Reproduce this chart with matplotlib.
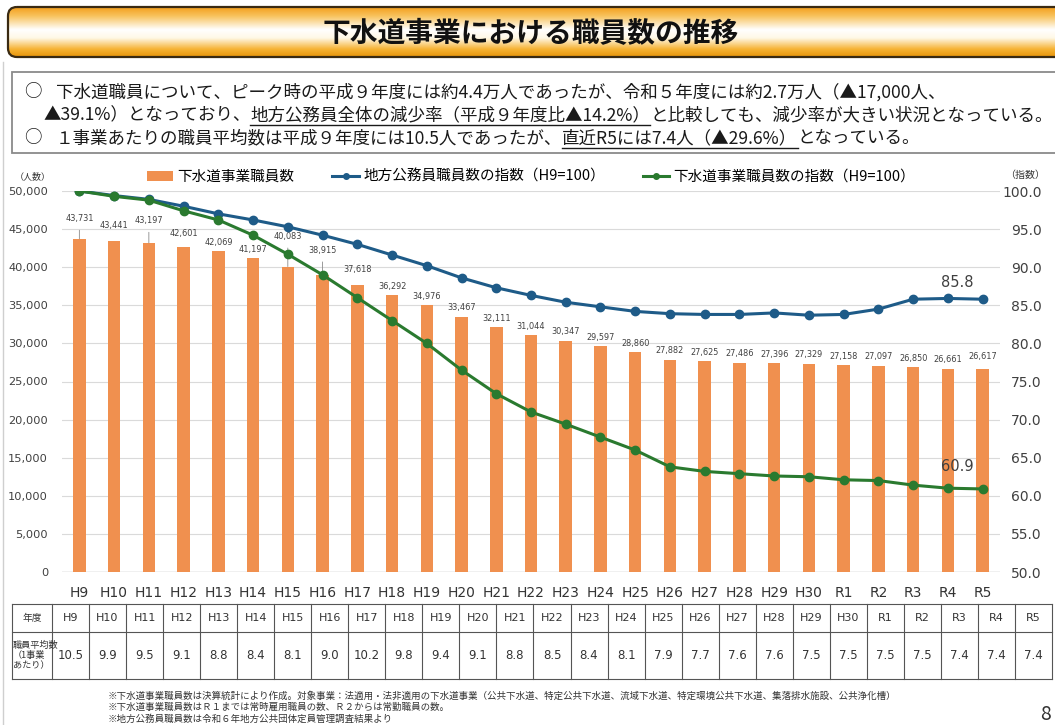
import numpy as np
import matplotlib
matplotlib.use('Agg')
import matplotlib.pyplot as plt
from matplotlib.patches import FancyBboxPatch, Rectangle, Patch
from matplotlib.lines import Line2D
from matplotlib.ticker import FuncFormatter, MultipleLocator

plt.rcParams['font.family'] = ['Noto Sans CJK JP', 'DejaVu Sans']

# --- data ---
years = ['H9', 'H10', 'H11', 'H12', 'H13', 'H14', 'H15', 'H16', 'H17', 'H18',
         'H19', 'H20', 'H21', 'H22', 'H23', 'H24', 'H25', 'H26', 'H27', 'H28',
         'H29', 'H30', 'R1', 'R2', 'R3', 'R4', 'R5']
staff = [43731, 43441, 43197, 42601, 42069, 41197, 40083, 38915, 37618, 36292,
         34976, 33467, 32111, 31044, 30347, 29597, 28860, 27882, 27625, 27486,
         27396, 27329, 27158, 27097, 26850, 26661, 26617]
local_index = [100.0, 99.4, 98.9, 98.0, 97.0, 96.2, 95.3, 94.2, 93.0, 91.6,
               90.2, 88.6, 87.3, 86.3, 85.4, 84.8, 84.2, 83.9, 83.8, 83.8,
               84.0, 83.7, 83.8, 84.5, 85.8, 85.9, 85.8]
sewer_index = [100.0, 99.3, 98.8, 97.4, 96.2, 94.2, 91.7, 89.0, 86.0, 83.0,
               80.0, 76.5, 73.4, 71.0, 69.4, 67.7, 66.0, 63.8, 63.2, 62.9,
               62.6, 62.5, 62.1, 62.0, 61.4, 61.0, 60.9]
avg_staff = [10.5, 9.9, 9.5, 9.1, 8.8, 8.4, 8.1, 9.0, 10.2, 9.8, 9.4, 9.1, 8.8,
             8.5, 8.4, 8.1, 7.9, 7.7, 7.6, 7.6, 7.5, 7.5, 7.5, 7.5, 7.4, 7.4, 7.4]

title = '下水道事業における職員数の推移'
summary = [
    [('○', False)],
    [('下水道職員について、ピーク時の平成９年度には約4.4万人であったが、令和５年度には約2.7万人（▲17,000人、', False)],
    [('▲39.1%）となっており、', False), ('地方公務員全体の減少率（平成９年度比▲14.2%）', True),
     ('と比較しても、減少率が大きい状況となっている。', False)],
    [('○', False)],
    [('１事業あたりの職員平均数は平成９年度には10.5人であったが、', False),
     ('直近R5には7.4人（▲29.6%）', True), ('となっている。', False)],
]
notes = [
    '※下水道事業職員数は決算統計により作成。対象事業：法適用・法非適用の下水道事業（公共下水道、特定公共下水道、流域下水道、特定環境公共下水道、集落排水施設、公共浄化槽）',
    '※下水道事業職員数はＲ１までは常時雇用職員の数、Ｒ２からは常勤職員の数。',
    '※地方公務員職員数は令和６年地方公共団体定員管理調査結果より',
]

W, H = 1055, 725
fig = plt.figure(figsize=(W / 100, H / 100), dpi=100)
fig.patch.set_facecolor('white')

# overlay axes in pixel units for the slide decorations
ov = fig.add_axes([0, 0, 1, 1], zorder=0)
ov.axis('off')

# title banner with orange gradient
stops = [0.0, 0.18, 0.45, 0.62, 0.85, 1.0]
cols = np.array([[244, 160, 30], [248, 196, 96], [255, 255, 255],
                 [255, 248, 230], [246, 178, 50], [232, 150, 12]]) / 255
yy = np.linspace(0, 1, 60)
grad = np.stack([np.interp(yy, stops, cols[:, k]) for k in range(3)], axis=1)[:, None, :]
banner = FancyBboxPatch((8, 7), 1062, 50, boxstyle='round,pad=0,rounding_size=9',
                        facecolor='none', edgecolor='#3a2a12', lw=1.6, zorder=3)
im = ov.imshow(grad, extent=[8, 1070, 57, 7], aspect='auto', zorder=2)
ov.add_patch(banner)
im.set_clip_path(banner)
ov.text(531, 34, title, fontsize=20, fontweight='bold', ha='center', va='center',
        color='#111111', zorder=4)

ov.set_xlim(0, W)
ov.set_ylim(H, 0)

# slide left border
ov.plot([2.5, 2.5], [62, H], color='#cfcfcf', lw=1)

# summary box
ov.add_patch(Rectangle((12, 72), 1060, 81, facecolor='white', edgecolor='#8a8a8a', lw=1.3))
renderer = fig.canvas.get_renderer()


def rich_line(x, y, parts, size=12.6):
    for s, ul in parts:
        t = ov.text(x, y, s, fontsize=size, ha='left', va='center', color='#1a1a1a')
        w = t.get_window_extent(renderer).width
        if ul:
            ov.plot([x, x + w], [y + 10, y + 10], color='#1a1a1a', lw=1)
        x += w


rich_line(24, 92, summary[0])
rich_line(56, 92, summary[1])
rich_line(43, 115, summary[2])
rich_line(24, 138, summary[3])
rich_line(56, 138, summary[4])

# --- chart ---
ax = fig.add_axes([62 / W, 1 - 572 / H, 938 / W, 381 / H], zorder=2)
ax.patch.set_alpha(0)
x = np.arange(len(years))
ax.bar(x, staff, width=0.36, color='#F0904F', zorder=2)
ax.set_xlim(-0.5, len(years) - 0.5)
ax.set_ylim(0, 50000)
ax.yaxis.set_major_locator(MultipleLocator(5000))
ax.yaxis.set_major_formatter(FuncFormatter(lambda v, p: f'{int(v):,}'))
ax.grid(axis='y', color='#DADADA', lw=0.8)
ax.set_axisbelow(True)
for s in ax.spines.values():
    s.set_visible(False)
ax.axhline(0, color='#BFBFBF', lw=1, zorder=1)
ax.tick_params(axis='y', length=0, labelsize=8.2, labelcolor='#404040', pad=10)
ax.set_xticks(x, years)
ax.tick_params(axis='x', length=0, labelsize=10, labelcolor='#333333', pad=10)
for lab in ax.get_xticklabels() + ax.get_yticklabels():
    lab.set_fontfamily('DejaVu Sans')

# bar value labels (some raised with a leader line)
raise_px = {0: 16, 1: 11, 2: 18, 3: 10, 6: 26, 7: 21, 8: 12, 26: 9}
for i, v in enumerate(staff):
    dy = raise_px.get(i, 5)
    arrow = dict(arrowstyle='-', color='#8a8a8a', lw=0.6, shrinkA=3, shrinkB=0) if dy >= 15 else None
    ax.annotate(f'{v:,}', (x[i], v), xytext=(0, dy + 4), textcoords='offset pixels',
                ha='center', va='center', fontsize=5.9, color='#404040',
                family='DejaVu Sans', arrowprops=arrow, zorder=5)

ax2 = ax.twinx()
ax2.set_ylim(50, 100)
ax2.set_yticks(np.arange(50, 100.1, 5))
ax2.yaxis.set_major_formatter(FuncFormatter(lambda v, p: f'{v:.1f}'))
ax2.tick_params(axis='y', length=0, labelsize=10, labelcolor='#404040', pad=30)
for lab in ax2.get_yticklabels():
    lab.set_horizontalalignment('right')
    lab.set_fontfamily('DejaVu Sans')
for s in ax2.spines.values():
    s.set_visible(False)

blue = '#1E5B88'
green = '#2A7A2F'
ax2.plot(x, local_index, color=blue, lw=2.2, marker='o', ms=6, zorder=4)
ax2.plot(x, sewer_index, color=green, lw=2.2, marker='o', ms=6, zorder=4)
ax2.annotate(f'{local_index[-1]:.1f}', (x[-1], local_index[-1]), xytext=(-25, 17),
             textcoords='offset pixels', ha='center', va='center', fontsize=10.5,
             color='#404040', family='DejaVu Sans')
ax2.annotate(f'{sewer_index[-1]:.1f}', (x[-1], sewer_index[-1]), xytext=(-25, 22),
             textcoords='offset pixels', ha='center', va='center', fontsize=10.5,
             color='#404040', family='DejaVu Sans')

handles = [Patch(facecolor='#F0904F', edgecolor='none'),
           Line2D([], [], color=blue, lw=2.2, marker='o', ms=4),
           Line2D([], [], color=green, lw=2.2, marker='o', ms=4)]
labels = ['下水道事業職員数', '地方公務員職員数の指数（H9=100）', '下水道事業職員数の指数（H9=100）']
ax2.legend(handles, labels, loc='lower center', bbox_to_anchor=(0.5, 1.0), ncol=3,
           frameon=False, fontsize=10.5, handlelength=1.8, handletextpad=0.3,
           columnspacing=2.6, borderaxespad=0.1)

ov.text(33, 177, '（人数）', fontsize=6.5, ha='center', va='center', color='#333333')
ov.text(1025, 175, '（指数）', fontsize=7.2, ha='center', va='center', color='#333333')

# --- table ---
tx0, c0, tx1 = 12, 52, 1052
ty = [604, 632, 679]
cw = (tx1 - c0) / len(years)
for yv in ty:
    ov.plot([tx0, tx1], [yv, yv], color='#555555', lw=0.8)
ov.plot([tx0, tx0], [ty[0], ty[2]], color='#555555', lw=0.8)
for k in range(len(years) + 1):
    xv = c0 + k * cw
    ov.plot([xv, xv], [ty[0], ty[2]], color='#555555', lw=0.8)
ov.text((tx0 + c0) / 2, (ty[0] + ty[1]) / 2, '年度', fontsize=7, ha='center', va='center', color='#333333')
ov.text(tx0 + 1, (ty[1] + ty[2]) / 2, '職員平均数\n（1事業\nあたり）', fontsize=6.6,
        ha='left', va='center', color='#333333', linespacing=1.1)
for k, (yr, a) in enumerate(zip(years, avg_staff)):
    cx = c0 + (k + 0.5) * cw
    ov.text(cx, (ty[0] + ty[1]) / 2, yr, fontsize=8, ha='center', va='center',
            color='#333333', family='DejaVu Sans')
    ov.text(cx, (ty[1] + ty[2]) / 2, f'{a:.1f}', fontsize=8.5, ha='center', va='center',
            color='#333333', family='DejaVu Sans')

# footnotes
for k, n in enumerate(notes):
    ov.text(108, 696 + 11.5 * k, n, fontsize=6.8, ha='left', va='center', color='#333333')
ov.text(1040, 714, '8', fontsize=14, ha='left', va='center', color='#333333')

fig.savefig('out.png', dpi=100, facecolor='white')
